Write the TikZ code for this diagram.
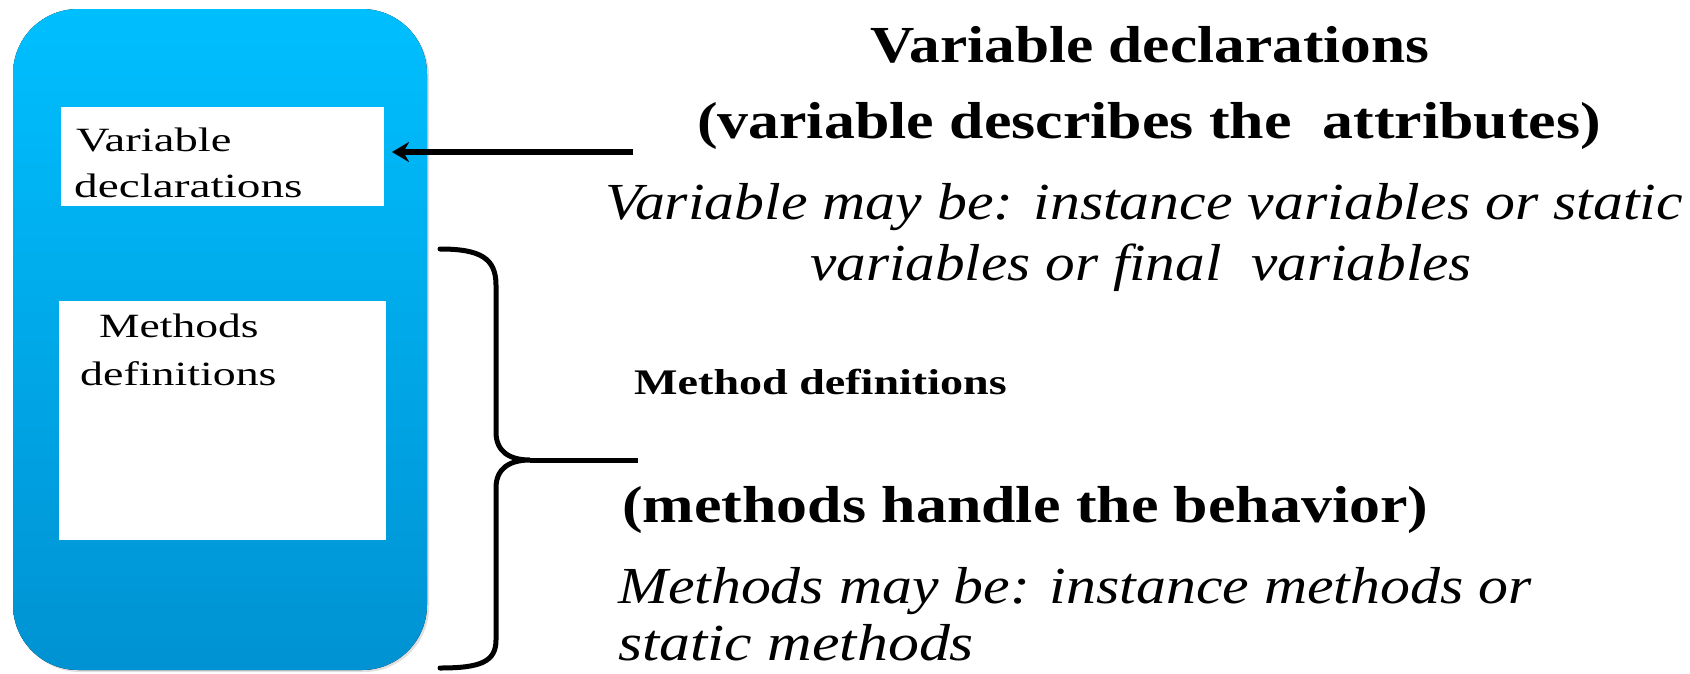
\documentclass[tikz,border=0pt]{standalone}
\usepackage{fontspec}
\usepackage{graphicx}
\setmainfont{Liberation Serif}
\usetikzlibrary{arrows.meta,shadows}
\definecolor{boxtop}{RGB}{0,191,255}
\definecolor{boxbot}{RGB}{0,146,210}
\newcommand{\sx}[2]{\scalebox{#1}[1]{#2}}
\tikzset{
  outer/.style={rounded corners=65pt, top color=boxtop, bottom color=boxbot, draw=none,
    drop shadow={shadow xshift=2pt, shadow yshift=-2pt, opacity=0.25}},
  inner/.style={fill=white, draw=none},
  bigbold/.style={font=\fontsize{52}{60}\selectfont\bfseries, inner sep=0pt, anchor=base},
  bigital/.style={font=\fontsize{52}{60}\selectfont\itshape, inner sep=0pt, anchor=base},
  midbold/.style={font=\fontsize{36}{42}\selectfont\bfseries, inner sep=0pt, anchor=base west},
  boxtext/.style={font=\fontsize{34}{40}\selectfont, inner sep=0pt, anchor=base west},
  conn/.style={line width=5.5pt, draw=black},
}
\begin{document}
\begin{tikzpicture}[x=1pt,y=-1pt]
\useasboundingbox (0,0) rectangle (1690,673);
\fill[outer] (13,9) rectangle (427,670);
\node[inner, minimum width=323pt, minimum height=99pt, anchor=north west] (vbox) at (61,107) {};
\node[inner, minimum width=327pt, minimum height=239pt, anchor=north west] (mbox) at (59,301) {};
\node[boxtext] (v1) at (76,151) {\sx{1.37}{Variable}};
\node[boxtext] (v2) at (74,197) {\sx{1.39}{declarations}};
\node[boxtext] (m1) at (99,337) {\sx{1.34}{Methods}};
\node[boxtext] (m2) at (80,385) {\sx{1.35}{definitions}};
% texts
\node[bigbold, anchor=base] (t1) at (1150,62) {\sx{1.18}{Variable declarations}};
\node[bigbold, anchor=base] (t2) at (1149,138) {\sx{1.19}{(variable describes the\ \ attributes)}};
\node[bigital, anchor=base] (t3) at (1144,219) {\sx{1.15}{Variable may be: instance variables or static}};
\node[bigital, anchor=base] (t4) at (1141,280) {\sx{1.14}{variables or final\ \ variables}};
\node[midbold] (t5) at (634,394) {\sx{1.28}{Method definitions}};
\node[bigbold, anchor=base west] (t6) at (622,522) {\sx{1.19}{(methods handle the behavior)}};
\node[bigital, anchor=base west] (t7) at (618,603) {\sx{1.15}{Methods may be: instance methods or}};
\node[bigital, anchor=base west] (t8) at (618,660) {\sx{1.19}{static methods}};
% arrow
\coordinate (astart) at (633,152);
\coordinate (aend) at (392,152);
\draw[conn, -{Stealth[length=17pt,width=20pt]}] (astart) -- (aend);
% brace
\coordinate (btop) at (440,249);
\coordinate (bbot) at (440,668);
\coordinate (btip) at (530,460);
\coordinate (bend) at (638,460);
\draw[conn, line width=5pt, line cap=round] (btop) .. controls (480,249) and (496,258) .. (496,285)
  -- (496,432) .. controls (496,452) and (510,460) .. (btip)
  .. controls (510,460) and (496,468) .. (496,488)
  -- (496,640) .. controls (496,662) and (480,668) .. (bbot);
\draw[conn, line width=5pt] (btip) -- (bend);
\end{tikzpicture}
\end{document}
